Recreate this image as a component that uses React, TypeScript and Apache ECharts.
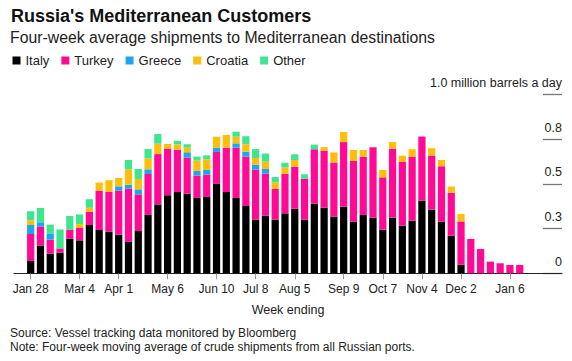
import React, { useEffect, useRef } from "react";
import * as echarts from "echarts";

const weeks = [
  "Jan 28", "Feb 4", "Feb 11", "Feb 18", "Feb 25", "Mar 4", "Mar 11", "Mar 18", "Mar 25",
  "Apr 1", "Apr 8", "Apr 15", "Apr 22", "Apr 29", "May 6", "May 13", "May 20", "May 27",
  "Jun 3", "Jun 10", "Jun 17", "Jun 24", "Jul 1", "Jul 8", "Jul 15", "Jul 22", "Jul 29",
  "Aug 5", "Aug 12", "Aug 19", "Aug 26", "Sep 2", "Sep 9", "Sep 16", "Sep 23", "Sep 30",
  "Oct 7", "Oct 14", "Oct 21", "Oct 28", "Nov 4", "Nov 11", "Nov 18", "Nov 25",
  "Dec 2", "Dec 9", "Dec 16", "Dec 23", "Dec 30", "Jan 6", "Jan 13",
];

const shownWeekLabels = [
  "Jan 28", "Mar 4", "Apr 1", "May 6", "Jun 10", "Jul 8", "Aug 5", "Sep 9", "Oct 7", "Nov 4", "Dec 2", "Jan 6",
];

const italy = [
  0.069, 0.155, 0.110, 0.115, 0.194, 0.184, 0.270, 0.242, 0.233, 0.216, 0.175, 0.236, 0.326,
  0.385, 0.436, 0.454, 0.445, 0.421, 0.426, 0.501, 0.454, 0.421, 0.376, 0.300, 0.322, 0.300,
  0.335, 0.361, 0.300, 0.389, 0.367, 0.317, 0.372, 0.289, 0.326, 0.311, 0.244, 0.311, 0.266,
  0.294, 0.406, 0.356, 0.289, 0.210, 0.048, 0, 0, 0, 0, 0, 0,
];

const turkey = [
  0.151, 0.106, 0.078, 0.024, 0.050, 0.069, 0.074, 0.220, 0.222, 0.246, 0.298, 0.205, 0.229,
  0.281, 0.261, 0.236, 0.201, 0.125, 0.125, 0.177, 0.248, 0.281, 0.276, 0.279, 0.235, 0.171,
  0.220, 0.235, 0.229, 0.304, 0.318, 0.302, 0.361, 0.339, 0.326, 0.393, 0.292, 0.385, 0.356,
  0.358, 0.358, 0.302, 0.309, 0.240, 0.242, 0.192, 0.136, 0.065, 0.056, 0.047, 0.047,
];

const greece = [
  0.050, 0.024, 0.032, 0, 0, 0, 0, 0, 0, 0.024, 0.022, 0.028, 0.026,
  0, 0, 0, 0.030, 0.026, 0.026, 0.024, 0, 0.024, 0.028, 0.028, 0.026, 0,
  0, 0, 0, 0, 0, 0, 0, 0, 0, 0, 0, 0, 0,
  0, 0, 0, 0, 0, 0, 0, 0, 0, 0, 0, 0,
];

const croatia = [
  0.026, 0, 0, 0, 0, 0.022, 0.022, 0.045, 0.065, 0.047, 0.086, 0.058, 0.061,
  0.058, 0.026, 0.030, 0.026, 0.058, 0.060, 0.061, 0.071, 0.037, 0.041, 0.037, 0.041, 0.037,
  0.037, 0.037, 0, 0, 0.020, 0.056, 0.056, 0.061, 0.037, 0, 0.041, 0.037, 0.035,
  0.041, 0, 0.041, 0.035, 0.035, 0.041, 0, 0, 0, 0, 0, 0,
];

const other = [
  0.050, 0.080, 0.052, 0.106, 0.076, 0.054, 0.048, 0, 0, 0, 0.052, 0.056, 0.052,
  0.054, 0, 0.020, 0.019, 0.022, 0.022, 0, 0, 0.028, 0.045, 0.050, 0.045, 0.030,
  0.026, 0.032, 0.024, 0.026, 0, 0, 0, 0, 0, 0, 0, 0, 0,
  0, 0, 0, 0, 0, 0, 0, 0, 0, 0, 0, 0,
];

const yTickLabels = ["0", "0.3", "0.5", "0.8", "1.0 million barrels a day"];

const seriesNames = ["Italy", "Turkey", "Greece", "Croatia", "Other"];
const seriesColors = ["#000000", "#ff0a94", "#1ba6f2", "#ffbe0a", "#3fe58f"];

const FONT = "'Liberation Sans', Arial, Helvetica, sans-serif";

export default function App() {
  const ref = useRef<HTMLDivElement>(null);

  useEffect(() => {
    if (!ref.current) return;
    const chart = echarts.init(ref.current, undefined, { renderer: "svg" });
    const dataSets = [italy, turkey, greece, croatia, other];
    const gridTop = 94.3;
    const gridBottom = 361 - 273.3;

    chart.setOption({
      animation: false,
      textStyle: { fontFamily: FONT },
      legend: {
        data: seriesNames,
        left: 12.5,
        top: 54,
        padding: 0,
        icon: "rect",
        itemWidth: 8,
        itemHeight: 8,
        itemGap: 12,
        selectedMode: false,
        textStyle: { fontFamily: FONT, fontSize: 13, color: "#222" },
      },
      grid: [
        { left: 25.8, width: 498.8, top: gridTop, bottom: gridBottom },
        { left: 14, right: 10, top: gridTop, bottom: gridBottom },
        { left: 543, right: 10, top: gridTop, bottom: gridBottom },
      ],
      xAxis: [
        {
          type: "category",
          gridIndex: 0,
          data: weeks,
          axisLine: { show: false },
          axisTick: {
            show: true,
            alignWithLabel: true,
            length: 6,
            interval: (i: number) => shownWeekLabels.includes(weeks[i]),
            lineStyle: { color: "#999", width: 1 },
          },
          axisLabel: {
            interval: (i: number) => shownWeekLabels.includes(weeks[i]),
            margin: 10,
            fontSize: 12,
            color: "#222",
            fontFamily: FONT,
          },
        },
        {
          type: "value",
          gridIndex: 1,
          min: 0,
          max: 1,
          axisLine: { show: true, lineStyle: { color: "#222", width: 1 } },
          axisTick: { show: false },
          axisLabel: { show: false },
          splitLine: { show: false },
          name: "Week ending",
          nameLocation: "middle",
          nameGap: 30,
          nameTextStyle: { fontSize: 12.5, color: "#222", fontFamily: FONT },
        },
        {
          type: "value",
          gridIndex: 2,
          min: 0,
          max: 1,
          show: false,
        },
      ],
      yAxis: [
        { type: "value", gridIndex: 0, min: 0, max: 1, show: false },
        { type: "value", gridIndex: 1, min: 0, max: 1, show: false },
        {
          type: "value",
          gridIndex: 2,
          position: "right",
          min: 0,
          max: 1,
          interval: 0.25,
          axisLine: { show: false },
          axisTick: { show: false },
          splitLine: { show: true, lineStyle: { color: "#777", width: 1.3 } },
          axisLabel: {
            inside: true,
            margin: 0,
            verticalAlign: "bottom",
            padding: [0, 0, 5, 0],
            fontSize: 12.5,
            color: "#222",
            fontFamily: FONT,
            formatter: (v: number) => yTickLabels[Math.round(v / 0.25)],
          },
        },
      ],
      series: seriesNames.map((name, k) => ({
        name,
        type: "bar",
        stack: "total",
        xAxisIndex: 0,
        yAxisIndex: 0,
        barWidth: "74%",
        itemStyle: { color: seriesColors[k] },
        data: dataSets[k],
      })),
      graphic: [
        {
          type: "text",
          x: 11,
          y: 15.5,
          style: {
            text: "Russia's Mediterranean Customers",
            font: `bold 18px ${FONT}`,
            fill: "#111",
            verticalAlign: "middle",
          },
        },
        {
          type: "text",
          x: 10,
          y: 37.5,
          style: {
            text: "Four-week average shipments to Mediterranean destinations",
            font: `15.8px ${FONT}`,
            fill: "#222",
            verticalAlign: "middle",
          },
        },
        {
          type: "text",
          x: 10,
          y: 332.5,
          style: {
            text: "Source: Vessel tracking data monitored by Bloomberg",
            font: `12px ${FONT}`,
            fill: "#222",
            verticalAlign: "middle",
          },
        },
        {
          type: "text",
          x: 10,
          y: 346.5,
          style: {
            text: "Note: Four-week moving average of crude shipments from all Russian ports.",
            font: `12px ${FONT}`,
            fill: "#222",
            verticalAlign: "middle",
          },
        },
      ],
    });

    return () => chart.dispose();
  }, []);

  return (
    <div
      ref={ref}
      style={{ width: 572, height: 361, position: "absolute", left: 0, top: 0, background: "#fff" }}
    />
  );
}
